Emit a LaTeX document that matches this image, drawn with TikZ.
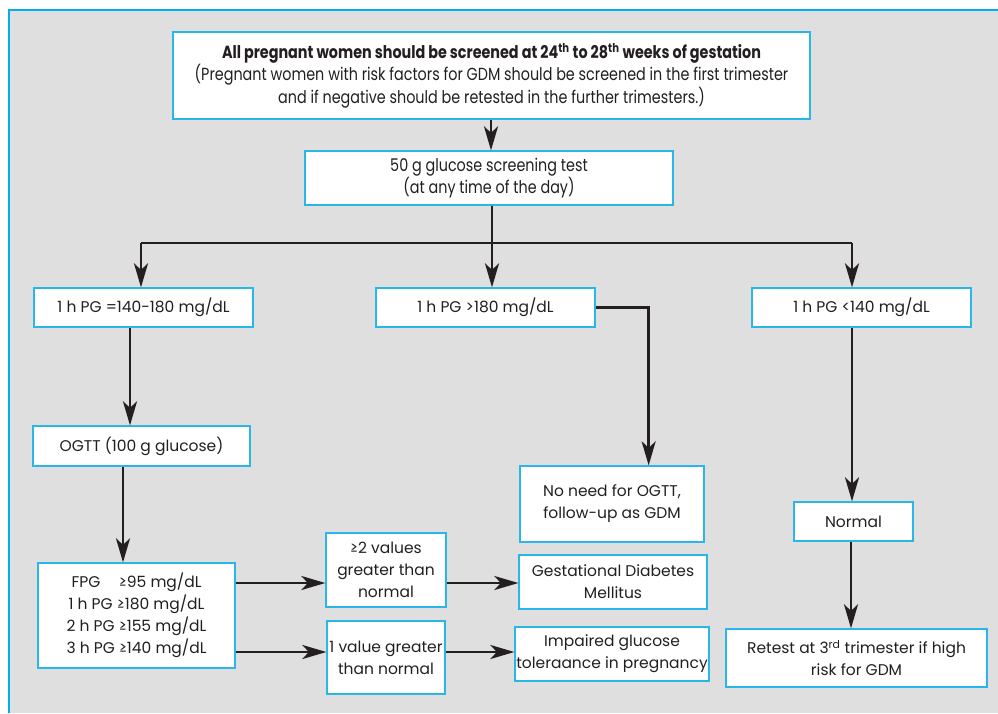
\documentclass[tikz,border=0pt]{standalone}
\usepackage{fontspec}
\setmainfont{Poppins}
\newfontfamily\condfont[FakeStretch=0.82]{Poppins}
\usetikzlibrary{arrows.meta,calc}
\definecolor{cyanc}{HTML}{29B6E8}
\definecolor{framec}{HTML}{00AEEF}
\definecolor{bgc}{HTML}{DFDFDF}
\definecolor{txt}{HTML}{231F20}
\tikzset{
  box/.style={draw=cyanc, line width=1.3pt, fill=white, inner sep=0pt, align=center, text=txt,
    font={\fontsize{15.5}{22}\selectfont}},
  condbox/.style={box, font={\condfont\fontsize{17.5}{22.5}\selectfont}},
  arr/.style={draw=txt, line width=2.6pt, -{Stealth[length=24pt,width=14pt,inset=6.5pt]}},
  ln/.style={draw=txt, line width=2.6pt},
}
\begin{document}
\begin{tikzpicture}[x=1pt,y=-1pt]
\useasboundingbox (0,0) rectangle (998,713);
\fill[bgc] (9,10) rectangle (998,713);
\draw[framec, line width=2.5pt] (9,713) -- (9,10) -- (998,10);

\node[condbox, minimum width=637pt, minimum height=87pt] (top) at (491.5,75.5)
 {{\bfseries\fontsize{17.5}{22.5}\selectfont All pregnant women should be screened at 24\textsuperscript{th} to 28\textsuperscript{th} weeks of gestation}\\
  (Pregnant women with risk factors for GDM should be screened in the first trimester\\
  and if negative should be retested in the further trimesters.)};
\node[condbox, minimum width=368pt, minimum height=54pt] (b2) at (489,178)
 {50 g glucose screening test\\(at any time of the day)};

\node[box, minimum width=219pt, minimum height=39pt] (L1) at (143.5,307.5) {1 h PG =140-180 mg/dL};
\node[box, minimum width=219pt, minimum height=39pt] (M1) at (485.5,307.5) {1 h PG >180 mg/dL};
\node[box, minimum width=219pt, minimum height=39pt] (R1) at (861.5,307.5) {1 h PG <140 mg/dL};

\node[box, minimum width=217pt, minimum height=40pt] (ogtt) at (141.5,446) {OGTT (100 g glucose)};
\node[box, minimum width=197pt, minimum height=105pt] (fpg) at (136.5,615.5)
 {FPG\hspace{1.2em}≥95 mg/dL\\1 h PG ≥180 mg/dL\\2 h PG ≥155 mg/dL\\3 h PG ≥140 mg/dL};
\node[box, minimum width=120pt, minimum height=74pt] (v2) at (386,570) {≥2 values\\greater than\\normal};
\node[box, minimum width=118pt, minimum height=73pt] (v1) at (386,657.5) {1 value greater\\than normal};
\node[box, minimum width=188pt, minimum height=54pt] (gdm) at (613,582) {Gestational Diabetes\\Mellitus};
\node[box, minimum width=194pt, minimum height=54pt] (igt) at (612,654) {Impaired glucose\\toleraance in pregnancy};
\node[box, minimum width=184pt, minimum height=76pt] (noneed) at (612,504) {No need for OGTT,\\follow-up as GDM};
\node[box, minimum width=119pt, minimum height=39pt] (normal) at (853.5,521.5) {Normal};
\node[box, minimum width=261pt, minimum height=58pt] (retest) at (856.5,658)
 {Retest at 3\textsuperscript{rd} trimester if high\\risk for GDM};

% connectors
\draw[arr] (top.south -| b2.north) ++(2,0) coordinate (t1) -- (t1 |- b2.north);
\coordinate (hub) at ($(b2.south)+(3,36)$);
\coordinate (hl) at (141,243);
\coordinate (hr) at (852,243);
\draw[ln] ($(b2.south)+(3,0)$) -- (hub);
\draw[ln] (hl) -- (hr);
\draw[arr] (hl) -- (hl |- L1.north);
\draw[arr] (hub) -- (hub |- M1.north);
\draw[arr] (hr) -- (hr |- R1.north);

\draw[arr] ($(L1.south)+(-13.5,0)$) coordinate (a1) -- (a1 |- ogtt.north);
\draw[arr] ($(ogtt.south)+(-18.5,0)$) coordinate (a2) -- (a2 |- fpg.north);
\draw[arr] ($(fpg.east)+(0,-32.5)$) coordinate (a3) -- (a3 -| v2.west);
\draw[arr] ($(fpg.east)+(0,36.5)$) coordinate (a4) -- (a4 -| v1.west);
\draw[arr] ($(v2.east)+(0,13)$) coordinate (a5) -- (a5 -| gdm.west);
\draw[arr] ($(v1.east)+(0,-5.5)$) coordinate (a6) -- (a6 -| igt.west);
\draw[arr] (M1.east) -- ++(53,0) coordinate (a7) -- (a7 |- noneed.north);
\draw[arr] ($(R1.south)+(-9.5,0)$) coordinate (a8) -- (a8 |- normal.north);
\draw[arr] ($(normal.south)+(-2.5,0)$) coordinate (a9) -- (a9 |- retest.north);
\end{tikzpicture}
\end{document}
